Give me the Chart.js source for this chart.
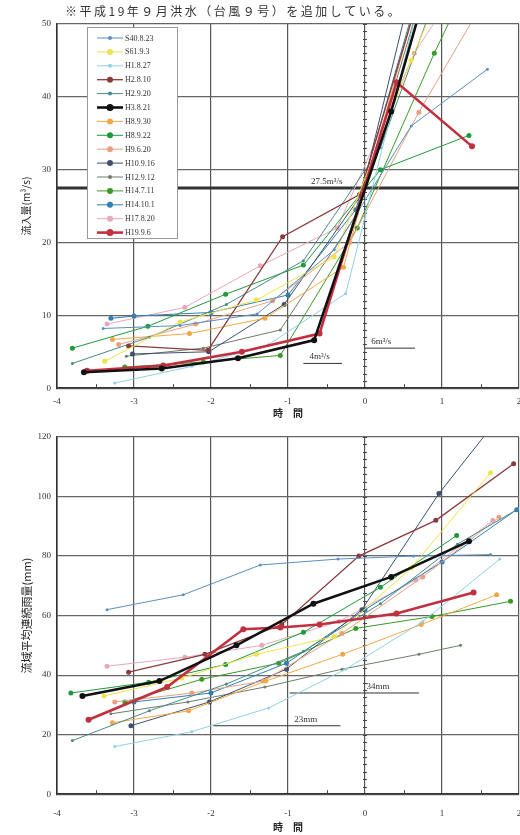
<!DOCTYPE html>
<html>
<head>
<meta charset="utf-8">
<script src="https://cdn.jsdelivr.net/npm/chart.js@4.4.1/dist/chart.umd.min.js"></script>
<style>
  body { margin: 0; background: #fff; width: 520px; height: 835px; overflow: hidden; }
  canvas { position: absolute; left: 0; }
  #inflowChart { top: 0; }
  #rainChart { top: 419px; }
</style>
</head>
<body>
<canvas id="inflowChart" width="520" height="419"></canvas>
<canvas id="rainChart" width="520" height="414"></canvas>
<script>
// flood events (legend order)
const seriesNames = ['S40.8.23', 'S61.9.3', 'H1.8.27', 'H2.8.10', 'H2.9.20', 'H3.8.21', 'H8.9.30',
  'H8.9.22', 'H9.6.20', 'H10.9.16', 'H12.9.12', 'H14.7.11', 'H14.10.1', 'H17.8.20', 'H19.9.6'];
const seriesColors = ['#5a8fc0', '#efe24a', '#8fd0e8', '#8a3b3b', '#4a8a8a', '#111111', '#f0a848',
  '#1f9a3a', '#e8a080', '#3f5070', '#6e7e6a', '#3a9a28', '#2f7fb0', '#e8a8b8', '#c23040'];
const seriesWidths = [1, 1, 1, 1.3, 1, 2.6, 1, 1, 1, 1, 1, 1, 1, 1, 2.6];
const seriesRadius = [1.5, 2.5, 1.5, 2.5, 1.5, 3, 2.5, 2.5, 2.5, 2.5, 1.5, 2.5, 2.5, 2.5, 3];

// inflow (m3/s) vs hours, [time, value]
const inflowS40 = [[-3.4, 8.2], [-2.4, 8.6], [-1.4, 10.2], [-0.4, 19], [0.6, 36], [1.59, 43.8]];
const inflowS61 = [[-3.38, 3.7], [-2.4, 9.1], [-1.41, 12.1], [-0.4, 18], [0.6, 45], [1.6, 70]];
const inflowH1 = [[-3.25, 0.7], [-2.25, 3], [-1.25, 6], [-0.25, 13], [0.75, 55]];
const inflowH2a = [[-3.07, 5.8], [-2.04, 5.2], [-1.07, 20.8], [-0.07, 26.6], [0.93, 62]];
const inflowH2b = [[-3.8, 3.4], [-2.8, 7], [-1.8, 11.5], [-0.8, 17.5], [0.2, 33], [1.2, 62]];
const inflowH3 = [[-3.65, 2.2], [-2.64, 2.7], [-1.65, 4.1], [-0.66, 6.6], [0.34, 38], [1.34, 75]];
const inflowH8a = [[-3.28, 6.7], [-2.28, 7.5], [-1.3, 9.6], [-0.28, 16.6], [0.72, 55]];
const inflowH8b = [[-3.8, 5.5], [-2.82, 8.5], [-1.81, 12.9], [-0.8, 16.9], [0.2, 30], [1.35, 34.7]];
const inflowH9 = [[-3.2, 6], [-2.2, 8.8], [-1.2, 12], [-0.2, 20], [0.7, 37.9], [1.7, 56]];
const inflowH10 = [[-3.02, 4.7], [-2.03, 5.0], [-1.05, 11.5], [-0.05, 26.5], [0.95, 70]];
const inflowH12 = [[-3.1, 4.4], [-2.1, 5.5], [-1.1, 8], [-0.1, 24], [0.9, 60]];
const inflowH14a = [[-3.12, 2.9], [-2.1, 3.6], [-1.1, 4.5], [-0.1, 22], [0.9, 46], [1.9, 68]];
const inflowH14b = [[-3.3, 9.6], [-3.0, 9.9], [-2.0, 10.4], [-1.0, 12.8], [-0.12, 24.5], [0.9, 62]];
const inflowH17 = [[-3.35, 8.8], [-2.34, 11.1], [-1.36, 16.8], [-0.36, 22], [0.64, 46], [1.64, 62]];
const inflowH19 = [[-3.61, 2.4], [-2.62, 3.1], [-1.6, 5.0], [-0.59, 7.5], [0.41, 42], [1.39, 33.2]];

// basin mean continuous rainfall (mm) vs hours
const rainS40 = [[-3.35, 62], [-2.36, 67], [-1.36, 77], [-0.35, 79], [0.63, 80], [1.63, 80.5]];
const rainS61 = [[-3.39, 33], [-2.38, 39], [-1.41, 47], [-0.4, 53], [0.6, 76], [1.63, 108]];
const rainH1 = [[-3.25, 16], [-2.25, 21], [-1.25, 29], [-0.25, 42], [0.75, 58], [1.75, 79]];
const rainH2a = [[-3.07, 41], [-2.08, 47], [-1.08, 57], [-0.08, 80], [0.92, 92], [1.93, 111]];
const rainH2b = [[-3.8, 18], [-2.8, 28], [-1.8, 37], [-0.8, 48], [0.2, 64], [1.2, 84], [2.0, 96]];
const rainH3 = [[-3.67, 33], [-2.67, 38], [-1.67, 50], [-0.67, 64], [0.34, 73], [1.35, 85]];
const rainH8a = [[-3.28, 24], [-2.29, 28], [-1.29, 38], [-0.29, 47], [0.73, 57], [1.71, 67]];
const rainH8b = [[-3.82, 34], [-2.81, 37.6], [-1.81, 43.6], [-0.8, 54.4], [0.2, 69.5], [1.19, 86.9]];
const rainH9 = [[-3.25, 31], [-2.25, 34], [-1.32, 38], [-0.3, 54], [0.75, 73], [1.74, 93]];
const rainH10 = [[-3.04, 23], [-2.02, 31], [-1.02, 42], [-0.04, 62], [0.96, 101], [1.6, 122]];
const rainH12 = [[-3.3, 27], [-2.3, 31], [-1.3, 36], [-0.3, 42], [0.7, 47], [1.24, 50]];
const rainH14a = [[-3.12, 31], [-2.12, 38.6], [-1.12, 44], [-0.12, 55.7], [0.87, 59.7], [1.89, 64.8]];
const rainH14b = [[-3.0, 31], [-2.0, 34], [-1.02, 44], [0.0, 62], [1.0, 78], [1.97, 95.6]];
const rainH17 = [[-3.35, 43], [-2.34, 46], [-1.34, 50], [-0.34, 58], [0.66, 72], [1.66, 92]];
const rainH19 = [[-3.59, 25], [-2.57, 36], [-1.58, 55.4], [-1.1, 56], [-0.59, 57], [0.41, 60.7], [1.41, 67.8]];

const inflowSeries = [inflowS40, inflowS61, inflowH1, inflowH2a, inflowH2b, inflowH3, inflowH8a,
  inflowH8b, inflowH9, inflowH10, inflowH12, inflowH14a, inflowH14b, inflowH17, inflowH19];
const rainSeries = [rainS40, rainS61, rainH1, rainH2a, rainH2b, rainH3, rainH8a,
  rainH8b, rainH9, rainH10, rainH12, rainH14a, rainH14b, rainH17, rainH19];

// axes
const timeMin = -4, timeMax = 2;
const inflowMax = 50, inflowStep = 10;
const rainMax = 120, rainStep = 20;

// threshold / guide lines: [level, from, to], labels and where they start
const inflowThreshold = 27.5;
const inflowGuides = [[5.5, 0, 0.65], [3.4, -0.8, -0.3]];
const inflowGuideLabels = ['6m³/s', '4m³/s'];
const inflowGuideLabelX = [0.08, -0.72];
const rainGuides = [[34, -0.98, 0.7], [23, -1.97, -0.32]];
const rainGuideLabels = ['34mm', '23mm'];
const rainGuideLabelX = [0.02, -0.92];

const noteText = '※平成19年９月洪水（台風９号）を追加している。';
const tickFont = { family: 'Liberation Serif', size: 9 };
const cjk = 'Noto Sans CJK JP';

function seriesSets(series) {
  return series.map((pts, i) => ({
    label: seriesNames[i],
    data: pts.map(p => ({ x: p[0], y: p[1] })),
    showLine: true,
    borderColor: seriesColors[i],
    backgroundColor: seriesColors[i],
    borderWidth: seriesWidths[i],
    pointRadius: seriesRadius[i],
    pointBorderWidth: 0,
    order: i == 5 || i == 14 ? 0 : 1
  }));
}

function guideSets(guides, width) {
  return guides.map(g => ({
    data: [{ x: g[1], y: g[0] }, { x: g[2], y: g[0] }],
    showLine: true, borderColor: '#333', borderWidth: width, pointRadius: 0, order: 2
  }));
}

// small inner ticks on the x=0 line and half-hour ticks on the time axis
const innerTicks = {
  id: 'innerTicks',
  beforeDatasetsDraw(chart, args, opts) {
    const ctx = chart.ctx, xs = chart.scales.x, ys = chart.scales.y;
    const x0 = xs.getPixelForValue(0);
    ctx.save();
    ctx.strokeStyle = '#444';
    ctx.lineWidth = 1;
    ctx.beginPath();
    for (let v = 0; v <= ys.max; v += opts.step) {
      const y = Math.round(ys.getPixelForValue(v)) + 0.5;
      ctx.moveTo(x0 - 2, y); ctx.lineTo(x0 + 2, y);
    }
    for (let t = timeMin + 0.5; t < timeMax; t += 1) {
      const x = Math.round(xs.getPixelForValue(t)) + 0.5;
      ctx.moveTo(x, ys.bottom); ctx.lineTo(x, ys.bottom - 4);
    }
    ctx.stroke();
    ctx.restore();
  }
};

const guideText = {
  id: 'guideText',
  afterDatasetsDraw(chart, args, opts) {
    const ctx = chart.ctx, xs = chart.scales.x, ys = chart.scales.y;
    ctx.save();
    ctx.fillStyle = '#333';
    ctx.font = '9px "Liberation Serif"';
    ctx.textBaseline = 'bottom';
    opts.labels.forEach((txt, i) => {
      ctx.fillText(txt, xs.getPixelForValue(opts.labelX[i]), ys.getPixelForValue(opts.levels[i]) - 2);
    });
    if (opts.note) {
      ctx.font = '12px "' + cjk + '"';
      ctx.letterSpacing = '2.5px';
      ctx.fillStyle = '#333';
      ctx.textBaseline = 'alphabetic';
      ctx.fillText(opts.note, chart.chartArea.left + 8, chart.chartArea.top - 8);
    }
    ctx.restore();
  }
};

const legendBox = {
  id: 'legendBox',
  afterDraw(chart, args, opts) {
    if (!opts.show) return;
    const ctx = chart.ctx;
    ctx.save();
    ctx.fillStyle = '#fff';
    ctx.strokeStyle = '#999';
    ctx.lineWidth = 1;
    ctx.fillRect(87.5, 27.5, 90, 211);
    ctx.strokeRect(87.5, 27.5, 90, 211);
    ctx.font = '8px "Liberation Serif"';
    ctx.textBaseline = 'middle';
    seriesNames.forEach((name, i) => {
      const y = 38 + i * 13.9;
      ctx.strokeStyle = seriesColors[i];
      ctx.lineWidth = seriesWidths[i];
      ctx.beginPath(); ctx.moveTo(97, y); ctx.lineTo(123, y); ctx.stroke();
      ctx.fillStyle = seriesColors[i];
      ctx.beginPath(); ctx.arc(110, y, seriesRadius[i] + 0.5, 0, Math.PI * 2); ctx.fill();
      ctx.fillStyle = '#333';
      ctx.fillText(name, 125, y + 0.5);
    });
    ctx.restore();
  }
};

function makeOptions(yMax, yStep, yTitle, extra) {
  return {
    responsive: false,
    animation: false,
    layout: { autoPadding: false, padding: { top: extra.top, right: 1, left: 0, bottom: 0 } },
    plugins: {
      legend: { display: false },
      tooltip: { enabled: false },
      innerTicks: { step: extra.innerStep },
      guideText: extra.guideText,
      legendBox: { show: extra.legend }
    },
    scales: {
      x: {
        type: 'linear', min: timeMin, max: timeMax,
        ticks: { stepSize: 1, color: '#333', font: tickFont, padding: extra.tickPad },
        grid: { color: '#555', lineWidth: 1.2, drawTicks: false },
        border: { color: '#333', width: 1.6 },
        title: { display: true, text: '時　間', color: '#222', font: { family: cjk, size: 10, weight: 'bold' }, padding: { top: extra.titleGap, bottom: 0 } },
        afterFit(scale) { scale.paddingRight = 0; }
      },
      y: {
        min: 0, max: yMax,
        ticks: { stepSize: yStep, color: '#333', font: tickFont, padding: 6 },
        grid: { color: '#666', lineWidth: 1.2, drawTicks: false },
        border: { color: '#333', width: 1.6 },
        title: { display: true, text: yTitle, color: '#222', font: { family: cjk, size: extra.yTitleSize }, padding: { top: 20, bottom: 0 } },
        afterFit(scale) { scale.width = 57; }
      }
    }
  };
}

Chart.register(innerTicks, guideText, legendBox);

new Chart(document.getElementById('inflowChart'), {
  type: 'scatter',
  data: {
    datasets: seriesSets(inflowSeries)
      .concat(guideSets([[inflowThreshold, timeMin, timeMax]], 3))
      .concat(guideSets(inflowGuides, 1))
  },
  options: makeOptions(inflowMax, inflowStep, '流入量(m³/s)', {
    top: 24, innerStep: 1, legend: true, tickPad: 8, titleGap: -8, yTitleSize: 10,
    guideText: {
      labels: inflowGuideLabels.concat(['27.5m³/s']),
      labelX: inflowGuideLabelX.concat([-0.7]),
      levels: inflowGuides.map(g => g[0]).concat([inflowThreshold]),
      note: noteText
    }
  })
});

new Chart(document.getElementById('rainChart'), {
  type: 'scatter',
  data: {
    datasets: seriesSets(rainSeries).concat(guideSets(rainGuides, 1))
  },
  options: makeOptions(rainMax, rainStep, '流域平均連続雨量(mm)', {
    top: 18, innerStep: 2.5, legend: false, tickPad: 14, titleGap: -12, yTitleSize: 11,
    guideText: {
      labels: rainGuideLabels,
      labelX: rainGuideLabelX,
      levels: rainGuides.map(g => g[0]),
      note: ''
    }
  })
});
</script>
</body>
</html>
